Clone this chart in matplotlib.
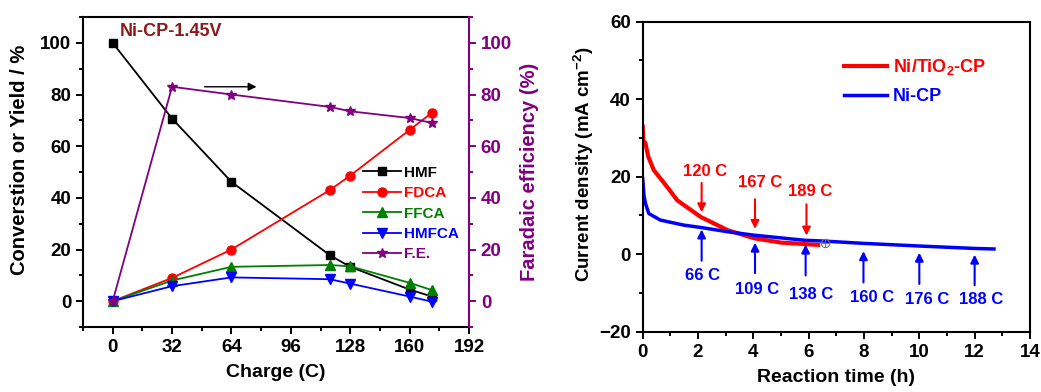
import numpy as np
import matplotlib; matplotlib.use("Agg")
import matplotlib.pyplot as plt
from matplotlib.ticker import MultipleLocator

plt.rcParams["font.family"]=["Liberation Sans","DejaVu Sans"]
plt.rcParams["font.weight"]="bold"
plt.rcParams["axes.labelweight"]="bold"
plt.rcParams["mathtext.fontset"]="custom"
plt.rcParams["mathtext.rm"]="Liberation Sans:bold"
plt.rcParams["mathtext.bf"]="Liberation Sans:bold"
plt.rcParams["mathtext.default"]="bf"

PURPLE="#800080"

# left panel: products vs charge
charge=[0,32,64,117,128,160,172]
hmf=[100,70.7,46.2,17.8,13.3,4.5,1.8]
fdca=[0,9,20,43,48.6,66.3,72.9]
ffca=[0,8,13.3,14,13.5,7.1,4.3]
hmfca=[0,5.8,9.2,8.5,6.8,1.8,-0.2]
fe=[0,83,80,75.2,73.5,70.9,69]

# right panel: i-t curves
t_ti=[0,0.02,0.1,0.2,0.4,0.88,1.25,2.1,3.07,4.04,5.0,6.34]
j_ti=[32.9,29.5,28.6,25.2,21.7,17.4,13.9,9.6,6.2,4.1,3.0,2.4]
t_ni=[0,0.05,0.1,0.22,0.64,1.49,2.1,3.07,4.04,5.85,6.52,7.98,10.04,11.97,12.7]
j_ni=[19.5,15,13.1,10.5,8.8,7.5,6.9,5.8,4.9,3.6,3.4,2.8,2.1,1.5,1.35]

# charge labels, red = Ni/TiO2-CP (arrows down), blue = Ni-CP (arrows up)
red_lab=["120 C","167 C","189 C"]
red_t=[2.13,4.06,5.92]
red_tip=[10.1,5.8,4.1]
red_tail=[19.1,14.9,13.6]
red_tx=[2.25,4.25,6.04]
red_ty=[21.3,18.4,16.3]
blue_lab=["66 C","109 C","138 C","160 C","176 C","188 C"]
blue_t=[2.13,4.06,5.89,7.98,10.0,12.0]
blue_tip=[7.1,3.7,3.2,1.5,1.1,0.6]
blue_tail=[-2.4,-5.6,-6.2,-8.0,-8.4,-8.7]
blue_tx=[2.16,4.12,6.1,8.28,10.3,12.24]
blue_ty=[-5.6,-9.1,-10.5,-11.1,-11.6,-11.6]

fig=plt.figure(figsize=(10.41,3.92),dpi=100)
ax=fig.add_axes([0.0797,0.1658,0.3708,0.7908])
ax2=ax.twinx()

ms=6.5
l1,=ax.plot(charge,hmf,"-s",color="k",ms=ms-0.5,lw=1.3,label="HMF")
l2,=ax.plot(charge,fdca,"-o",color="red",ms=ms,lw=1.3,label="FDCA")
l3,=ax.plot(charge,ffca,"-^",color="green",ms=ms,lw=1.3,label="FFCA")
l4,=ax.plot(charge,hmfca,"-v",color="blue",ms=ms,lw=1.3,label="HMFCA")
l5,=ax2.plot(charge,fe,"-*",color=PURPLE,ms=ms+1,lw=1.3,label="F.E.")

ax.set_xlim(-16,192); ax.set_ylim(-10,110); ax2.set_ylim(-10,110)
ax.set_xticks(range(0,193,32)); ax.xaxis.set_minor_locator(MultipleLocator(16))
ax.set_yticks(range(0,101,20)); ax.yaxis.set_minor_locator(MultipleLocator(10))
ax2.set_yticks(range(0,101,20)); ax2.yaxis.set_minor_locator(MultipleLocator(10))
ax.set_xlabel("Charge (C)",fontsize=14,labelpad=6)
ax.set_ylabel("Converstion or Yield / %",fontsize=14.5,labelpad=8,y=0.54)
ax2.set_ylabel("Faradaic efficiency (%)",fontsize=14.5,color=PURPLE,labelpad=6)
for a in (ax,ax2):
    a.tick_params(which="both",direction="out",width=1.4,labelsize=13.5)
    a.tick_params(which="major",length=5); a.tick_params(which="minor",length=3)
    for s in a.spines.values(): s.set_linewidth(1.5)
ax.tick_params(axis="y",which="both",right=False)
ax2.tick_params(axis="y",which="both",colors=PURPLE)
ax.spines["right"].set_visible(False)
ax2.spines["right"].set_color(PURPLE)
for s in ("left","top","bottom"): ax2.spines[s].set_visible(False)
ax.text(4,102.5,"Ni-CP-1.45V",color="#8B1A1A",fontsize=13,fontweight="bold")
ax.annotate("",xy=(79,83),xytext=(48,83),arrowprops=dict(arrowstyle="-|>",color="k",lw=1,mutation_scale=12))
leg=ax2.legend(handles=[l1,l2,l3,l4,l5],loc="upper left",bbox_to_anchor=(0.725,0.52),frameon=False,
               fontsize=11,handlelength=2.5,handletextpad=0.2,labelspacing=0.42,borderpad=0,borderaxespad=0)
for txt,l in zip(leg.get_texts(),[l1,l2,l3,l4,l5]): txt.set_color(l.get_color())

# right panel
bx=fig.add_axes([0.6174,0.1538,0.372,0.7908])
r1,=bx.plot(t_ti,j_ti,color="red",lw=3,label="Ni/TiO$_2$-CP")
r2,=bx.plot(t_ni,j_ni,color="blue",lw=2.5,label="Ni-CP")
bx.plot([6.58],[3.0],"o",mfc="none",mec="#777",ms=6,mew=0.8)
bx.plot([6.58],[3.0],"+",color="#777",ms=6,mew=0.8)
bx.set_xlim(0,14); bx.set_ylim(-20,60)
bx.set_xticks(range(0,15,2)); bx.xaxis.set_minor_locator(MultipleLocator(1))
bx.set_yticks(range(-20,61,20)); bx.yaxis.set_minor_locator(MultipleLocator(10))
bx.tick_params(which="both",direction="out",width=1.4,labelsize=13.5)
bx.tick_params(which="major",length=5); bx.tick_params(which="minor",length=3)
for s in bx.spines.values(): s.set_linewidth(1.5)
bx.set_xlabel("Reaction time (h)",fontsize=14,labelpad=6)
bx.set_ylabel("Current density (mA cm$^{-2}$)",fontsize=13.5,labelpad=2,y=0.54)
for t,tip,tail in zip(red_t,red_tip,red_tail):
    bx.annotate("",xy=(t,tip),xytext=(t,tail),arrowprops=dict(arrowstyle="-|>",color="red",lw=1.5,mutation_scale=12))
for lab,x,y in zip(red_lab,red_tx,red_ty):
    bx.text(x,y,lab,color="red",fontsize=12,ha="center",va="center")
for t,tip,tail in zip(blue_t,blue_tip,blue_tail):
    bx.annotate("",xy=(t,tip),xytext=(t,tail),arrowprops=dict(arrowstyle="-|>",color="blue",lw=1.5,mutation_scale=12))
for lab,x,y in zip(blue_lab,blue_tx,blue_ty):
    bx.text(x,y,lab,color="blue",fontsize=12,ha="center",va="center")
leg2=bx.legend(handles=[r1,r2],loc="upper left",bbox_to_anchor=(0.52,0.885),frameon=False,fontsize=13,
               handlelength=2.4,handletextpad=0.3,labelspacing=0.6,borderpad=0,borderaxespad=0)
for txt,l in zip(leg2.get_texts(),[r1,r2]): txt.set_color(l.get_color())

fig.savefig("out.png",dpi=100)
